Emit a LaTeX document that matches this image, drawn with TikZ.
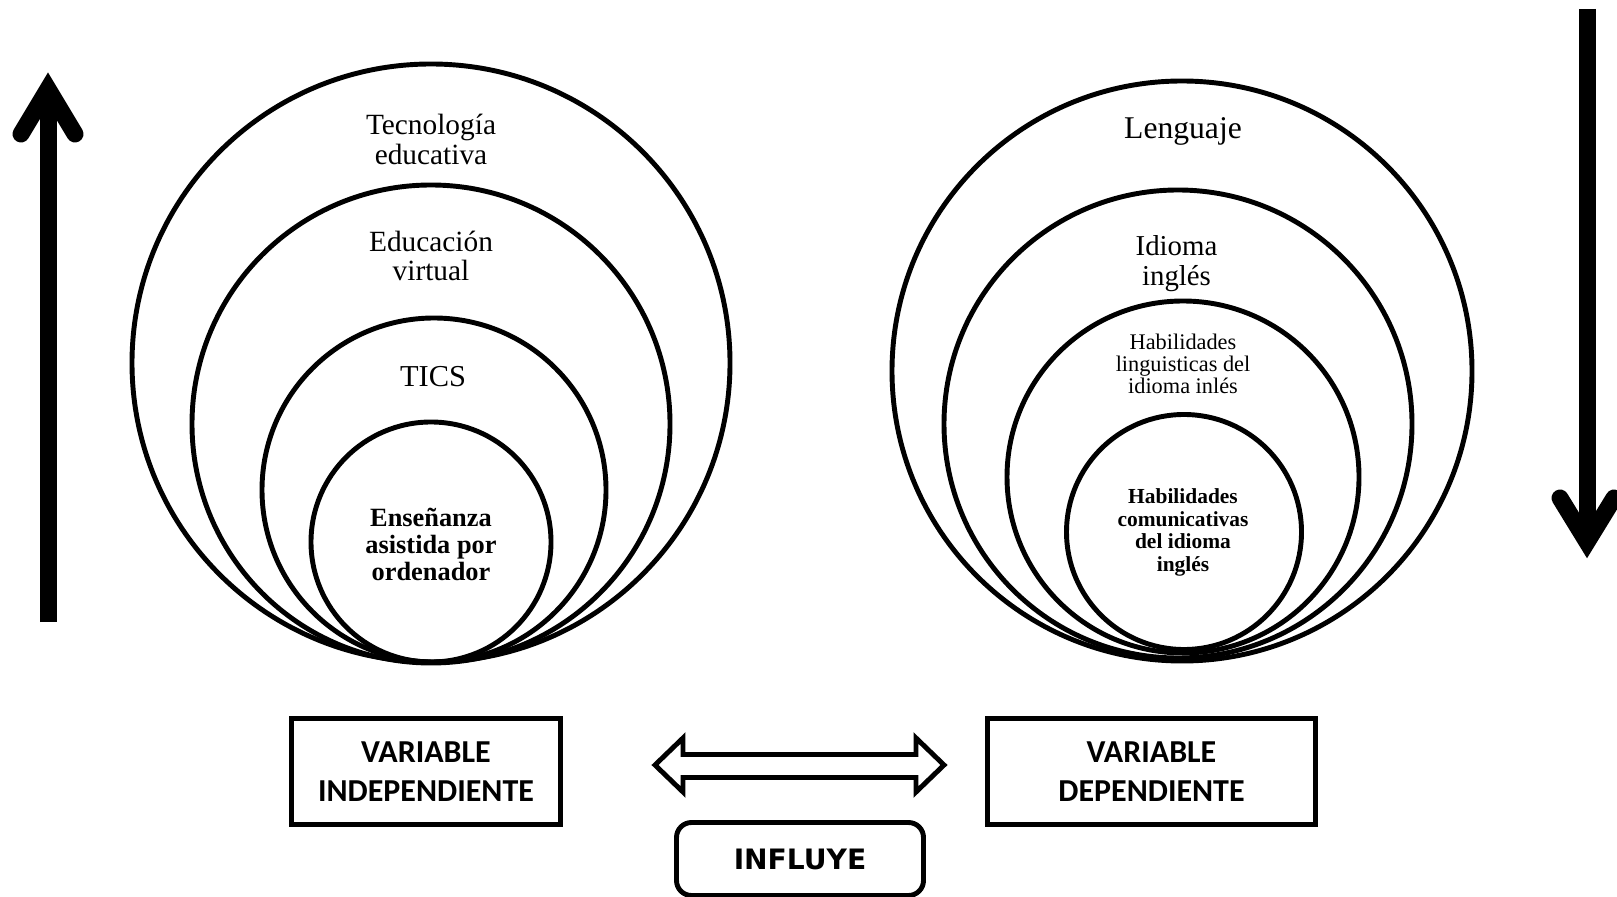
\documentclass[tikz,border=0pt]{standalone}
\usepackage{fontspec}
\setmainfont{Liberation Serif}
\newfontfamily\calibrifont{Carlito}
\newfontfamily\blackfont{DejaVu Sans}
\usepackage{tikz}

\begin{document}
\begin{tikzpicture}[
	ring/.style={line width=2.8pt},
	ringtext/.style={align=center,inner sep=0pt},
	varbox/.style={draw,line width=2.8pt,minimum height=2.12cm,align=center,
		font=\calibrifont\bfseries\fontsize{18.2}{22.4}\selectfont},
	bigarrow/.style={line width=0.34cm}
	]
	\useasboundingbox (0,0) rectangle (32.34,17.92);
	
	\draw[ring] (8.62,10.66) circle (5.98);
	\draw[ring] (8.62,9.44) circle (4.78);
	\draw[ring] (8.68,8.12) circle (3.44);
	\draw[ring] (8.62,7.08) circle (2.40);
	
	\draw[ring] (23.64,10.50) circle (5.80);
	\draw[ring] (23.56,9.44) circle (4.68);
	\draw[ring] (23.66,8.38) circle (3.52);
	\draw[ring] (23.68,7.28) circle (2.35);
	
	\node[ringtext,font=\fontsize{16.7}{17}\selectfont] (tec) at (8.62,15.13) {Tecnología\\educativa};
	\node[ringtext,font=\fontsize{16.7}{17}\selectfont] (edu) at (8.62,12.80) {Educación\\virtual};
	\node[ringtext,font=\fontsize{17.3}{17.3}\selectfont] (tics) at (8.66,10.39) {TICS};
	\node[ringtext,font=\bfseries\fontsize{15}{15.5}\selectfont] (eao) at (8.62,7.03) {Enseñanza\\asistida por\\ordenador};
	
	\node[ringtext,font=\fontsize{18}{18}\selectfont] (len) at (23.66,15.30) {Lenguaje};
	\node[ringtext,font=\fontsize{16.4}{17}\selectfont] (idi) at (23.53,12.64) {Idioma\\inglés};
	\node[ringtext,font=\fontsize{12.7}{12.5}\selectfont] (hab) at (23.66,10.64) {Habilidades\\linguisticas del\\idioma inlés};
	\node[ringtext,font=\bfseries\fontsize{12.2}{12.9}\selectfont] (hcom) at (23.66,7.27) {Habilidades\\comunicativas\\del idioma\\inglés};
	
	\draw[bigarrow] (0.96,5.48) -- (0.96,16.0);
	\draw[bigarrow,line cap=round,line join=miter] (0.42,15.24) -- (0.96,16.14) -- (1.50,15.24);
	\draw[bigarrow] (31.74,17.74) -- (31.74,7.3);
	\draw[bigarrow,line cap=round,line join=miter] (31.2,7.96) -- (31.74,7.08) -- (32.28,7.96);
	
	\node[varbox,minimum width=5.38cm] (indep) at (8.52,2.49) {VARIABLE\\INDEPENDIENTE};
	\node[varbox,minimum width=6.56cm] (dep) at (23.03,2.49) {VARIABLE\\DEPENDIENTE};
	
	\draw[line width=2.8pt,line join=miter] (13.10,2.62) -- (13.66,3.16) -- (13.66,2.83) -- (18.32,2.83)
		-- (18.32,3.16) -- (18.88,2.62) -- (18.32,2.08) -- (18.32,2.37) -- (13.66,2.37) -- (13.66,2.08) -- cycle;
	
	\node[draw,line width=2.8pt,rounded corners=0.3cm,minimum width=4.94cm,minimum height=1.46cm,
		font=\blackfont\bfseries\fontsize{16}{16}\selectfont] (infl) at (16.0,0.74) {INFLUYE};
\end{tikzpicture}
\end{document}
